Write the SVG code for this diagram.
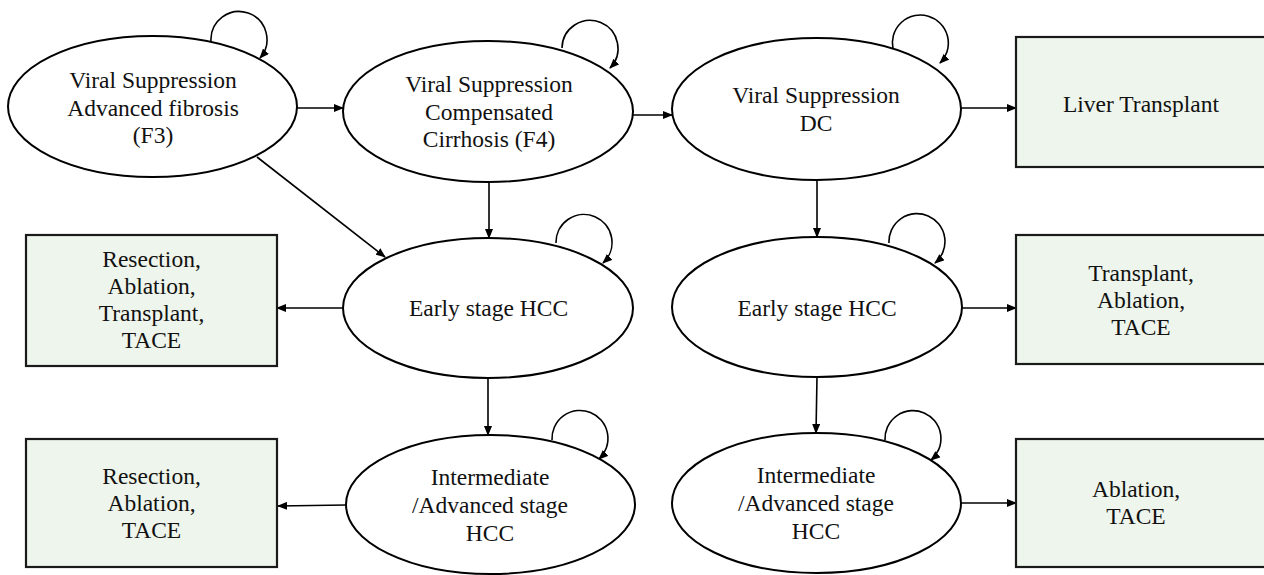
<svg xmlns="http://www.w3.org/2000/svg" width="1264" height="575" viewBox="0 0 1264 575">
<defs>
<marker id="ah" markerUnits="userSpaceOnUse" markerWidth="10" markerHeight="8" refX="9" refY="4" orient="auto">
<path d="M0,0 L10,4 L0,8 Z" fill="#000"/>
</marker>
<style>
.st{fill:#fff;stroke:#000;stroke-width:2}
.bx{fill:#eef5ec;stroke:#1a1a1a;stroke-width:2.2}
.t{font-family:"Liberation Serif","Times New Roman",serif;font-size:23.5px;fill:#111;text-anchor:middle}
.c{fill:none;stroke:#000;stroke-width:1.6;marker-end:url(#ah)}
</style>
</defs>
<rect width="1264" height="575" fill="#fff"/>

<g id="connectors">
<line class="c" x1="297" y1="108" x2="343" y2="108"/>
<line class="c" x1="633" y1="115" x2="672" y2="115"/>
<line class="c" x1="961" y1="108" x2="1016" y2="108"/>
<line class="c" x1="257" y1="157" x2="385" y2="257"/>
<line class="c" x1="489" y1="182" x2="489" y2="238"/>
<line class="c" x1="817" y1="180" x2="817" y2="237"/>
<line class="c" x1="343" y1="308" x2="277" y2="308"/>
<line class="c" x1="962" y1="308" x2="1016" y2="308"/>
<line class="c" x1="488" y1="378" x2="488" y2="435"/>
<line class="c" x1="817" y1="377" x2="816" y2="433"/>
<line class="c" x1="346" y1="505" x2="278" y2="506"/>
<line class="c" x1="961" y1="503" x2="1016" y2="503"/>
<path class="c" d="M211,41 A28,28 0 1 1 260,58"/>
<path class="c" d="M562,48 A28,28 0 1 1 610,68"/>
<path class="c" d="M893,49 A28,28 0 1 1 940,63"/>
<path class="c" d="M556,243 A28,28 0 1 1 603,263"/>
<path class="c" d="M889,243 A28,28 0 1 1 935,263"/>
<path class="c" d="M552,440 A28,28 0 1 1 599,459"/>
<path class="c" d="M885,440 A28,28 0 1 1 931,460"/>
</g>

<g id="n_f3">
<ellipse class="st" cx="152.5" cy="106.5" rx="144.5" ry="70.5"/>
<text class="t" x="153" y="88">Viral Suppression</text>
<text class="t" x="153" y="115.5">Advanced fibrosis</text>
<text class="t" x="153" y="143">(F3)</text>
</g>

<g id="n_f4">
<ellipse class="st" cx="488" cy="111.5" rx="145" ry="70.5"/>
<text class="t" x="489" y="92">Viral Suppression</text>
<text class="t" x="489" y="119.5">Compensated</text>
<text class="t" x="489" y="147">Cirrhosis (F4)</text>
</g>

<g id="n_dc">
<ellipse class="st" cx="816.5" cy="109" rx="144.5" ry="71"/>
<text class="t" x="816" y="103">Viral Suppression</text>
<text class="t" x="816" y="131">DC</text>
</g>

<g id="n_liver">
<rect class="bx" x="1016" y="37" width="252" height="130"/>
<text class="t" x="1141" y="112">Liver Transplant</text>
</g>

<g id="n_early_l">
<ellipse class="st" cx="488" cy="308" rx="145" ry="70"/>
<text class="t" x="488.5" y="316">Early stage HCC</text>
</g>

<g id="n_early_r">
<ellipse class="st" cx="817" cy="307" rx="145" ry="70"/>
<text class="t" x="817" y="316">Early stage HCC</text>
</g>

<g id="n_box_ml">
<rect class="bx" x="26" y="235" width="251" height="131"/>
<text class="t" x="151.5" y="267">Resection,</text>
<text class="t" x="151.5" y="294">Ablation,</text>
<text class="t" x="151.5" y="321">Transplant,</text>
<text class="t" x="151.5" y="348">TACE</text>
</g>

<g id="n_box_mr">
<rect class="bx" x="1016" y="235" width="252" height="129"/>
<text class="t" x="1141" y="281">Transplant,</text>
<text class="t" x="1141" y="308">Ablation,</text>
<text class="t" x="1141" y="335">TACE</text>
</g>

<g id="n_int_l">
<ellipse class="st" cx="490.5" cy="504.5" rx="144.5" ry="69.5"/>
<text class="t" x="490" y="485">Intermediate</text>
<text class="t" x="490" y="513">/Advanced stage</text>
<text class="t" x="490" y="541">HCC</text>
</g>

<g id="n_int_r">
<ellipse class="st" cx="816.5" cy="503" rx="144.5" ry="70"/>
<text class="t" x="816" y="483">Intermediate</text>
<text class="t" x="816" y="511">/Advanced stage</text>
<text class="t" x="816" y="539">HCC</text>
</g>

<g id="n_box_bl">
<rect class="bx" x="26" y="439" width="251" height="128"/>
<text class="t" x="151.5" y="484">Resection,</text>
<text class="t" x="151.5" y="511">Ablation,</text>
<text class="t" x="151.5" y="538">TACE</text>
</g>

<g id="n_box_br">
<rect class="bx" x="1016" y="439" width="252" height="128"/>
<text class="t" x="1136" y="497">Ablation,</text>
<text class="t" x="1136" y="524">TACE</text>
</g>
</svg>
